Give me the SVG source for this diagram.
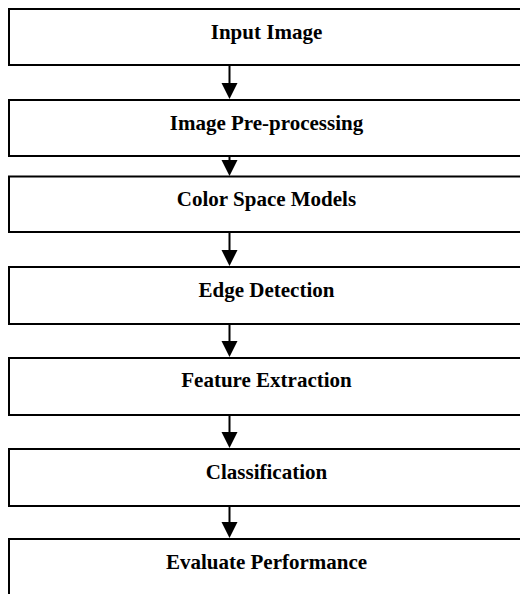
<svg xmlns="http://www.w3.org/2000/svg" width="520" height="594" viewBox="0 0 520 594">
<style>
.box{fill:#fff;stroke:#000;stroke-width:2}
.lbl{font-family:"Liberation Serif","Times New Roman",serif;font-weight:bold;font-size:21px;fill:#000;text-anchor:middle}
.conn line{stroke:#000;stroke-width:2}
.conn path{fill:#000;stroke:none}
</style>
<rect width="520" height="594" fill="#fff"/>
<g id="n1"><rect class="box" x="9" y="9" width="516" height="56"/><text class="lbl" x="266.5" y="39">Input Image</text></g>
<g id="n2"><rect class="box" x="9" y="100" width="516" height="56"/><text class="lbl" x="266.5" y="130">Image Pre-processing</text></g>
<g id="n3"><rect class="box" x="9" y="176.5" width="516" height="55.5"/><text class="lbl" x="266.5" y="206">Color Space Models</text></g>
<g id="n4"><rect class="box" x="9" y="267" width="516" height="57"/><text class="lbl" x="266.5" y="297">Edge Detection</text></g>
<g id="n5"><rect class="box" x="9" y="358" width="516" height="57"/><text class="lbl" x="266.5" y="387">Feature Extraction</text></g>
<g id="n6"><rect class="box" x="9" y="449" width="516" height="57"/><text class="lbl" x="266.5" y="479">Classification</text></g>
<g id="n7"><rect class="box" x="9" y="539" width="516" height="60"/><text class="lbl" x="266.5" y="569">Evaluate Performance</text></g>
<g id="connectors" class="conn">
<line x1="229.5" y1="65" x2="229.5" y2="84"/><path d="M221.5 83 L237.5 83 L229.5 99 Z"/>
<line x1="229.5" y1="156" x2="229.5" y2="161"/><path d="M221.5 160 L237.5 160 L229.5 176 Z"/>
<line x1="229.5" y1="232" x2="229.5" y2="251"/><path d="M221.5 250 L237.5 250 L229.5 266 Z"/>
<line x1="229.5" y1="324" x2="229.5" y2="342"/><path d="M221.5 341 L237.5 341 L229.5 357 Z"/>
<line x1="229.5" y1="415" x2="229.5" y2="433"/><path d="M221.5 432 L237.5 432 L229.5 448 Z"/>
<line x1="229.5" y1="506" x2="229.5" y2="523"/><path d="M221.5 522 L237.5 522 L229.5 538 Z"/>
</g>
</svg>
